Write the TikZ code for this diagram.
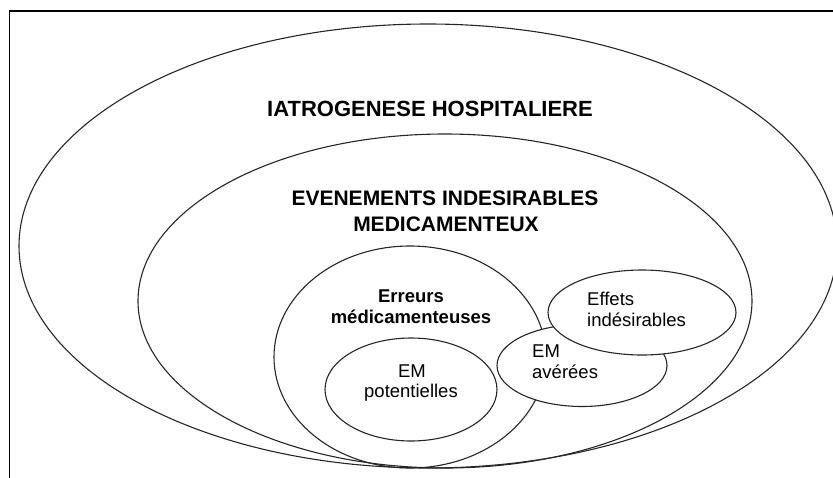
\documentclass[tikz,border=0pt]{standalone}
\usepackage{fontspec}
\setmainfont{Liberation Sans}
\begin{document}
\begin{tikzpicture}[x=1pt,y=-1pt,
  ring/.style={draw=black!85,line width=1.1pt},
  wring/.style={draw=black!85,line width=1.1pt,fill=white},
  title/.style={font=\fontsize{22}{26}\selectfont\bfseries,anchor=base,inner sep=0pt},
  subtitle/.style={font=\fontsize{21}{25}\selectfont\bfseries,anchor=base,inner sep=0pt},
  boldlbl/.style={font=\fontsize{18.5}{22}\selectfont\bfseries,anchor=base,inner sep=0pt},
  lbl/.style={font=\fontsize{18.5}{22}\selectfont,anchor=base,inner sep=0pt},
  llbl/.style={font=\fontsize{18.5}{22}\selectfont,anchor=base west,inner sep=0pt}]
\useasboundingbox (0,0) rectangle (833,477);
\begin{scope}
\clip (0,0) rectangle (833,477);
% frame
\draw[line width=1.6pt] (9.5,480) -- (9.5,11) -- (840,11);
% nested ellipses
\draw[ring] (428,246) ellipse [x radius=409, y radius=222];
\draw[ring] (445,301) ellipse [x radius=307, y radius=167];
\draw[ring] (410,357) ellipse [x radius=136, y radius=111];
\draw[ring] (411,389.5) ellipse [x radius=86, y radius=51.5];
\draw[wring] (582,365.5) ellipse [x radius=85, y radius=41];
\draw[wring] (642,312.5) ellipse [x radius=94, y radius=42.5];
\end{scope}
% texts
\node[title] (iat) at (430,116) {IATROGENESE HOSPITALIERE};
\node[subtitle] (ei1) at (445,205) {EVENEMENTS INDESIRABLES};
\node[subtitle] (ei2) at (446,231) {MEDICAMENTEUX};
\node[boldlbl] (er1) at (411,302) {Erreurs};
\node[boldlbl] (er2) at (411,323) {médicamenteuses};
\node[lbl] (po1) at (412,377) {EM};
\node[lbl] (po2) at (411,397) {potentielles};
\node[llbl] (av1) at (532,357) {EM};
\node[llbl] (av2) at (532,378) {avérées};
\node[llbl] (ef1) at (587,305) {Effets};
\node[llbl] (ef2) at (587,326.5) {indésirables};
\end{tikzpicture}
\end{document}
